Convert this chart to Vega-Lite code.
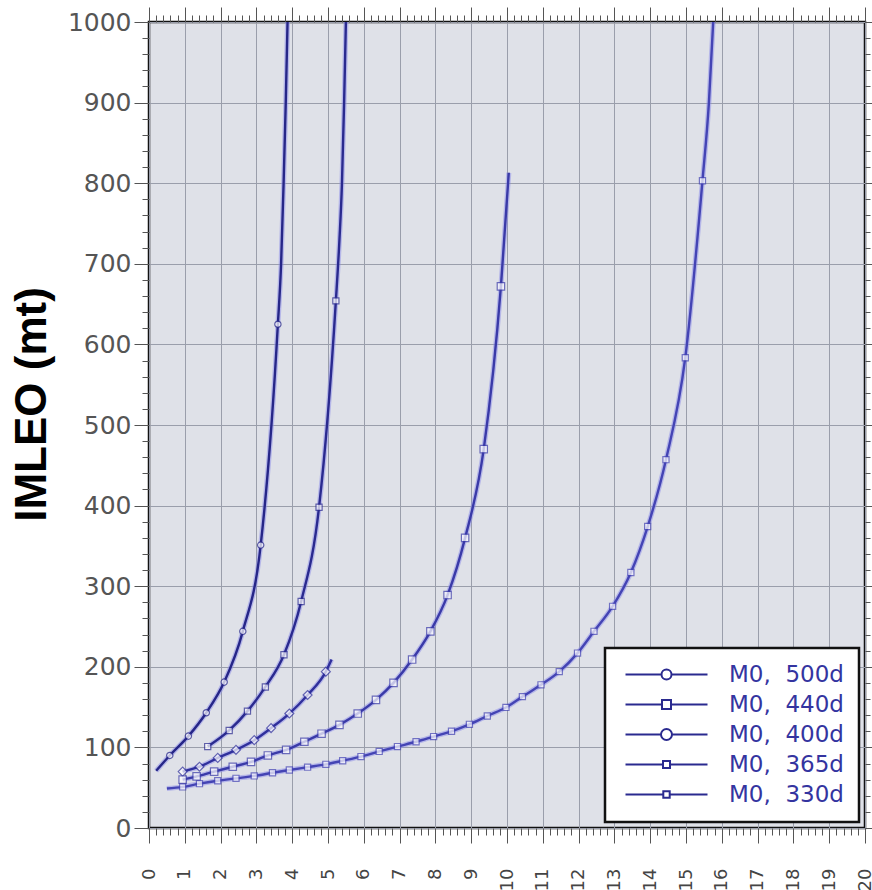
{
  "$schema": "https://vega.github.io/schema/vega-lite/v6.json",
  "width": 716,
  "height": 806,
  "autosize": {"type": "none"},
  "padding": {"left": 149, "top": 22, "right": 7, "bottom": 62},
  "background": "white",
  "config": {
    "view": {"fill": "#dfe1e8", "stroke": "#111111", "strokeWidth": 2.5},
    "axis": {"labelFont": "DejaVu Sans", "tickColor": "#555555", "tickWidth": 1, "gridColor": "#9a9eab", "gridWidth": 1, "domain": false},
    "legend": {"strokeWidth": 2.5}
  },
  "data": {"values": [
    {"series": "M0,\u00a0\u00a0500d", "x": 0.2, "y": 71, "m": 0},
    {"series": "M0,\u00a0\u00a0500d", "x": 0.58, "y": 90, "m": 1},
    {"series": "M0,\u00a0\u00a0500d", "x": 1.1, "y": 114, "m": 1},
    {"series": "M0,\u00a0\u00a0500d", "x": 1.6, "y": 143, "m": 1},
    {"series": "M0,\u00a0\u00a0500d", "x": 2.1, "y": 181, "m": 1},
    {"series": "M0,\u00a0\u00a0500d", "x": 2.62, "y": 244, "m": 1},
    {"series": "M0,\u00a0\u00a0500d", "x": 3.12, "y": 351, "m": 1},
    {"series": "M0,\u00a0\u00a0500d", "x": 3.6, "y": 625, "m": 1},
    {"series": "M0,\u00a0\u00a0500d", "x": 3.69, "y": 700, "m": 0},
    {"series": "M0,\u00a0\u00a0500d", "x": 3.76, "y": 800, "m": 0},
    {"series": "M0,\u00a0\u00a0500d", "x": 3.82, "y": 900, "m": 0},
    {"series": "M0,\u00a0\u00a0500d", "x": 3.87, "y": 1000, "m": 0},

    {"series": "M0,\u00a0\u00a0440d", "x": 1.64, "y": 101, "m": 1},
    {"series": "M0,\u00a0\u00a0440d", "x": 2.24, "y": 121, "m": 1},
    {"series": "M0,\u00a0\u00a0440d", "x": 2.75, "y": 145, "m": 1},
    {"series": "M0,\u00a0\u00a0440d", "x": 3.25, "y": 175, "m": 1},
    {"series": "M0,\u00a0\u00a0440d", "x": 3.77, "y": 215, "m": 1},
    {"series": "M0,\u00a0\u00a0440d", "x": 4.25, "y": 281, "m": 1},
    {"series": "M0,\u00a0\u00a0440d", "x": 4.75, "y": 398, "m": 1},
    {"series": "M0,\u00a0\u00a0440d", "x": 5.22, "y": 654, "m": 1},
    {"series": "M0,\u00a0\u00a0440d", "x": 5.32, "y": 730, "m": 0},
    {"series": "M0,\u00a0\u00a0440d", "x": 5.39, "y": 800, "m": 0},
    {"series": "M0,\u00a0\u00a0440d", "x": 5.45, "y": 900, "m": 0},
    {"series": "M0,\u00a0\u00a0440d", "x": 5.5, "y": 1000, "m": 0},

    {"series": "M0,\u00a0\u00a0400d", "x": 0.94, "y": 70, "m": 1},
    {"series": "M0,\u00a0\u00a0400d", "x": 1.41, "y": 76, "m": 1},
    {"series": "M0,\u00a0\u00a0400d", "x": 1.92, "y": 87, "m": 1},
    {"series": "M0,\u00a0\u00a0400d", "x": 2.43, "y": 97, "m": 1},
    {"series": "M0,\u00a0\u00a0400d", "x": 2.94, "y": 109, "m": 1},
    {"series": "M0,\u00a0\u00a0400d", "x": 3.41, "y": 124, "m": 1},
    {"series": "M0,\u00a0\u00a0400d", "x": 3.92, "y": 142, "m": 1},
    {"series": "M0,\u00a0\u00a0400d", "x": 4.43, "y": 165, "m": 1},
    {"series": "M0,\u00a0\u00a0400d", "x": 4.94, "y": 194, "m": 1},
    {"series": "M0,\u00a0\u00a0400d", "x": 5.1, "y": 209, "m": 0},

    {"series": "M0,\u00a0\u00a0365d", "x": 0.94, "y": 60, "m": 1},
    {"series": "M0,\u00a0\u00a0365d", "x": 1.33, "y": 64, "m": 1},
    {"series": "M0,\u00a0\u00a0365d", "x": 1.82, "y": 70, "m": 1},
    {"series": "M0,\u00a0\u00a0365d", "x": 2.34, "y": 76, "m": 1},
    {"series": "M0,\u00a0\u00a0365d", "x": 2.85, "y": 82, "m": 1},
    {"series": "M0,\u00a0\u00a0365d", "x": 3.32, "y": 90, "m": 1},
    {"series": "M0,\u00a0\u00a0365d", "x": 3.83, "y": 97, "m": 1},
    {"series": "M0,\u00a0\u00a0365d", "x": 4.34, "y": 107, "m": 1},
    {"series": "M0,\u00a0\u00a0365d", "x": 4.82, "y": 117, "m": 1},
    {"series": "M0,\u00a0\u00a0365d", "x": 5.32, "y": 128, "m": 1},
    {"series": "M0,\u00a0\u00a0365d", "x": 5.83, "y": 142, "m": 1},
    {"series": "M0,\u00a0\u00a0365d", "x": 6.34, "y": 159, "m": 1},
    {"series": "M0,\u00a0\u00a0365d", "x": 6.83, "y": 180, "m": 1},
    {"series": "M0,\u00a0\u00a0365d", "x": 7.35, "y": 209, "m": 1},
    {"series": "M0,\u00a0\u00a0365d", "x": 7.86, "y": 244, "m": 1},
    {"series": "M0,\u00a0\u00a0365d", "x": 8.34, "y": 289, "m": 1},
    {"series": "M0,\u00a0\u00a0365d", "x": 8.83, "y": 360, "m": 1},
    {"series": "M0,\u00a0\u00a0365d", "x": 9.35, "y": 470, "m": 1},
    {"series": "M0,\u00a0\u00a0365d", "x": 9.83, "y": 672, "m": 1},
    {"series": "M0,\u00a0\u00a0365d", "x": 10.05, "y": 813, "m": 0},

    {"series": "M0,\u00a0\u00a0330d", "x": 0.5, "y": 49, "m": 0},
    {"series": "M0,\u00a0\u00a0330d", "x": 0.94, "y": 51, "m": 1},
    {"series": "M0,\u00a0\u00a0330d", "x": 1.41, "y": 55, "m": 1},
    {"series": "M0,\u00a0\u00a0330d", "x": 1.92, "y": 58.6, "m": 1},
    {"series": "M0,\u00a0\u00a0330d", "x": 2.43, "y": 61.6, "m": 1},
    {"series": "M0,\u00a0\u00a0330d", "x": 2.94, "y": 64.6, "m": 1},
    {"series": "M0,\u00a0\u00a0330d", "x": 3.45, "y": 68.5, "m": 1},
    {"series": "M0,\u00a0\u00a0330d", "x": 3.92, "y": 72, "m": 1},
    {"series": "M0,\u00a0\u00a0330d", "x": 4.43, "y": 75.5, "m": 1},
    {"series": "M0,\u00a0\u00a0330d", "x": 4.94, "y": 79, "m": 1},
    {"series": "M0,\u00a0\u00a0330d", "x": 5.41, "y": 83.5, "m": 1},
    {"series": "M0,\u00a0\u00a0330d", "x": 5.92, "y": 88.6, "m": 1},
    {"series": "M0,\u00a0\u00a0330d", "x": 6.43, "y": 95, "m": 1},
    {"series": "M0,\u00a0\u00a0330d", "x": 6.94, "y": 101, "m": 1},
    {"series": "M0,\u00a0\u00a0330d", "x": 7.46, "y": 107, "m": 1},
    {"series": "M0,\u00a0\u00a0330d", "x": 7.95, "y": 113.4, "m": 1},
    {"series": "M0,\u00a0\u00a0330d", "x": 8.45, "y": 120, "m": 1},
    {"series": "M0,\u00a0\u00a0330d", "x": 8.95, "y": 128.6, "m": 1},
    {"series": "M0,\u00a0\u00a0330d", "x": 9.45, "y": 139, "m": 1},
    {"series": "M0,\u00a0\u00a0330d", "x": 9.97, "y": 149.6, "m": 1},
    {"series": "M0,\u00a0\u00a0330d", "x": 10.43, "y": 163, "m": 1},
    {"series": "M0,\u00a0\u00a0330d", "x": 10.95, "y": 177.6, "m": 1},
    {"series": "M0,\u00a0\u00a0330d", "x": 11.46, "y": 194, "m": 1},
    {"series": "M0,\u00a0\u00a0330d", "x": 11.97, "y": 217, "m": 1},
    {"series": "M0,\u00a0\u00a0330d", "x": 12.43, "y": 244, "m": 1},
    {"series": "M0,\u00a0\u00a0330d", "x": 12.95, "y": 275, "m": 1},
    {"series": "M0,\u00a0\u00a0330d", "x": 13.46, "y": 317, "m": 1},
    {"series": "M0,\u00a0\u00a0330d", "x": 13.93, "y": 374, "m": 1},
    {"series": "M0,\u00a0\u00a0330d", "x": 14.44, "y": 457, "m": 1},
    {"series": "M0,\u00a0\u00a0330d", "x": 14.98, "y": 583.5, "m": 1},
    {"series": "M0,\u00a0\u00a0330d", "x": 15.46, "y": 803, "m": 1},
    {"series": "M0,\u00a0\u00a0330d", "x": 15.64, "y": 900, "m": 0},
    {"series": "M0,\u00a0\u00a0330d", "x": 15.76, "y": 1000, "m": 0}
  ]},
  "resolve": {"axis": {"x": "independent", "y": "independent"}},
  "layer": [
    {
      "mark": {"type": "line", "interpolate": "monotone", "strokeWidth": 5, "opacity": 0.5, "color": "#8c8cea", "clip": true},
      "encoding": {
        "x": {"field": "x", "type": "quantitative", "scale": {"domain": [0, 20], "nice": false},
          "axis": {"orient": "bottom", "values": [0,1,2,3,4,5,6,7,8,9,10,11,12,13,14,15,16,17,18,19,20], "labelAngle": -90, "labelFontSize": 18, "labelColor": "#444444", "tickSize": 15, "labelPadding": 25, "grid": true, "title": null}},
        "y": {"field": "y", "type": "quantitative", "scale": {"domain": [0, 1000], "nice": false},
          "axis": {"orient": "left", "values": [0,100,200,300,400,500,600,700,800,900,1000], "format": "d", "labelFontSize": 25, "labelColor": "#555555", "tickSize": 15, "labelPadding": 3, "grid": true,
            "title": "IMLEO (mt)", "titleFont": "Liberation Sans", "titleFontSize": 44, "titleFontWeight": "bold", "titleColor": "#000000", "titleAngle": -90, "titleX": -104, "titleY": 382, "titleBaseline": "alphabetic", "titleAlign": "center"}},
        "detail": {"field": "series"}
      }
    },
    {
      "mark": {"type": "line", "interpolate": "monotone", "strokeWidth": 2.4, "clip": true},
      "encoding": {
        "x": {"field": "x", "type": "quantitative",
          "axis": {"orient": "bottom", "values": [0.2,0.4,0.6,0.8,1.2,1.4,1.6,1.8,2.2,2.4,2.6,2.8,3.2,3.4,3.6,3.8,4.2,4.4,4.6,4.8,5.2,5.4,5.6,5.8,6.2,6.4,6.6,6.8,7.2,7.4,7.6,7.8,8.2,8.4,8.6,8.8,9.2,9.4,9.6,9.8,10.2,10.4,10.6,10.8,11.2,11.4,11.6,11.8,12.2,12.4,12.6,12.8,13.2,13.4,13.6,13.8,14.2,14.4,14.6,14.8,15.2,15.4,15.6,15.8,16.2,16.4,16.6,16.8,17.2,17.4,17.6,17.8,18.2,18.4,18.6,18.8,19.2,19.4,19.6,19.8], "labels": false, "tickSize": 7, "grid": false, "title": null}},
        "y": {"field": "y", "type": "quantitative",
          "axis": {"orient": "left", "values": [20,40,60,80,120,140,160,180,220,240,260,280,320,340,360,380,420,440,460,480,520,540,560,580,620,640,660,680,720,740,760,780,820,840,860,880,920,940,960,980], "labels": false, "tickSize": 7, "grid": false, "title": null}},
        "color": {"field": "series", "type": "nominal", "legend": null,
          "scale": {"range": ["#4444b4", "#3a3aa8", "#30309c", "#2a2a8f", "#262688"]}}
      }
    },
    {
      "transform": [{"filter": "datum.m == 1 && datum.series == 'M0,\u00a0\u00a0500d'"}],
      "mark": {"type": "point", "shape": "circle", "size": 40, "filled": false, "fill": "white", "strokeWidth": 1.2},
      "encoding": {
        "x": {"field": "x", "type": "quantitative",
          "axis": {"orient": "top", "values": [0,1,2,3,4,5,6,7,8,9,10,11,12,13,14,15,16,17,18,19,20], "labels": false, "tickSize": 15, "grid": false, "title": null}},
        "y": {"field": "y", "type": "quantitative",
          "axis": {"orient": "right", "values": [0,100,200,300,400,500,600,700,800,900,1000], "labels": false, "tickSize": 8, "grid": false, "title": null}},
        "color": {"field": "series", "type": "nominal", "legend": null}
      }
    },
    {
      "transform": [{"filter": "datum.m == 1 && datum.series == 'M0,\u00a0\u00a0400d'"}],
      "mark": {"type": "point", "shape": "diamond", "size": 80, "filled": false, "fill": "white", "strokeWidth": 1.2},
      "encoding": {
        "x": {"field": "x", "type": "quantitative",
          "axis": {"orient": "top", "values": [0.2,0.4,0.6,0.8,1.2,1.4,1.6,1.8,2.2,2.4,2.6,2.8,3.2,3.4,3.6,3.8,4.2,4.4,4.6,4.8,5.2,5.4,5.6,5.8,6.2,6.4,6.6,6.8,7.2,7.4,7.6,7.8,8.2,8.4,8.6,8.8,9.2,9.4,9.6,9.8,10.2,10.4,10.6,10.8,11.2,11.4,11.6,11.8,12.2,12.4,12.6,12.8,13.2,13.4,13.6,13.8,14.2,14.4,14.6,14.8,15.2,15.4,15.6,15.8,16.2,16.4,16.6,16.8,17.2,17.4,17.6,17.8,18.2,18.4,18.6,18.8,19.2,19.4,19.6,19.8], "labels": false, "tickSize": 7, "grid": false, "title": null}},
        "y": {"field": "y", "type": "quantitative",
          "axis": {"orient": "right", "values": [20,40,60,80,120,140,160,180,220,240,260,280,320,340,360,380,420,440,460,480,520,540,560,580,620,640,660,680,720,740,760,780,820,840,860,880,920,940,960,980], "labels": false, "tickSize": 5, "grid": false, "title": null}},
        "color": {"field": "series", "type": "nominal", "legend": null}
      }
    },
    {
      "transform": [{"filter": "datum.m == 1 && (datum.series == 'M0,\u00a0\u00a0440d' || datum.series == 'M0,\u00a0\u00a0330d')"}],
      "mark": {"type": "point", "shape": "square", "size": 38, "filled": false, "fill": "white", "strokeWidth": 1.2},
      "encoding": {
        "x": {"field": "x", "type": "quantitative", "axis": null},
        "y": {"field": "y", "type": "quantitative", "axis": null},
        "color": {"field": "series", "type": "nominal", "legend": null}
      }
    },
    {
      "transform": [{"filter": "datum.m == 1 && datum.series == 'M0,\u00a0\u00a0365d'"}],
      "mark": {"type": "point", "shape": "square", "size": 55, "filled": false, "fill": "white", "strokeWidth": 1.2},
      "encoding": {
        "x": {"field": "x", "type": "quantitative", "axis": null},
        "y": {"field": "y", "type": "quantitative", "axis": null},
        "color": {"field": "series", "type": "nominal", "legend": null}
      }
    },
    {
      "transform": [{"filter": "datum.m == 1"}],
      "mark": {"type": "point", "opacity": 0, "filled": false, "color": "#2a2a8f"},
      "encoding": {
        "x": {"field": "x", "type": "quantitative", "axis": null},
        "y": {"field": "y", "type": "quantitative", "axis": null},
        "shape": {"field": "series", "type": "nominal",
          "scale": {"domain": ["M0,\u00a0\u00a0500d", "M0,\u00a0\u00a0440d", "M0,\u00a0\u00a0400d", "M0,\u00a0\u00a0365d", "M0,\u00a0\u00a0330d"],
            "range": [
              "M-0.6,0H3M4,0H7.6M3,0A0.5,0.5,0,1,1,4,0A0.5,0.5,0,1,1,3,0Z",
              "M-0.6,0H3.05M3.95,0H7.6M3.05,-0.45H3.95V0.45H3.05Z",
              "M-0.6,0H2.95M4.05,0H7.6M2.95,0A0.55,0.55,0,1,1,4.05,0A0.55,0.55,0,1,1,2.95,0Z",
              "M-0.6,0H3.15M3.85,0H7.6M3.15,-0.35H3.85V0.35H3.15Z",
              "M-0.6,0H3.18M3.82,0H7.6M3.18,-0.32H3.82V0.32H3.18Z"
            ]},
          "legend": {
            "title": null,
            "orient": "bottom-right",
            "offset": 6,
            "padding": 15,
            "rowPadding": 6,
            "fillColor": "white",
            "strokeColor": "#111111",
            "symbolSize": 400,
            "symbolStrokeWidth": 2,
            "symbolOpacity": 1,
            "symbolFillColor": "white",
            "symbolStrokeColor": "#2a2a8f",
            "labelOffset": 86,
            "labelFont": "DejaVu Sans",
            "labelFontSize": 23,
            "labelLimit": 0,
            "labelColor": "#3434a0",
            "encode": {
              "legend": {"strokeWidth": {"value": 2.5}},
              "symbols": {"stroke": {"value": {"expr": "scale('color', datum.value)"}}, "fill": {"value": "white"}, "opacity": {"value": 1}, "strokeWidth": {"value": 2}},
              "labels": {"fill": {"value": {"expr": "scale('color', datum.value)"}}}
            }
          }
        }
      }
    }
  ]
}
